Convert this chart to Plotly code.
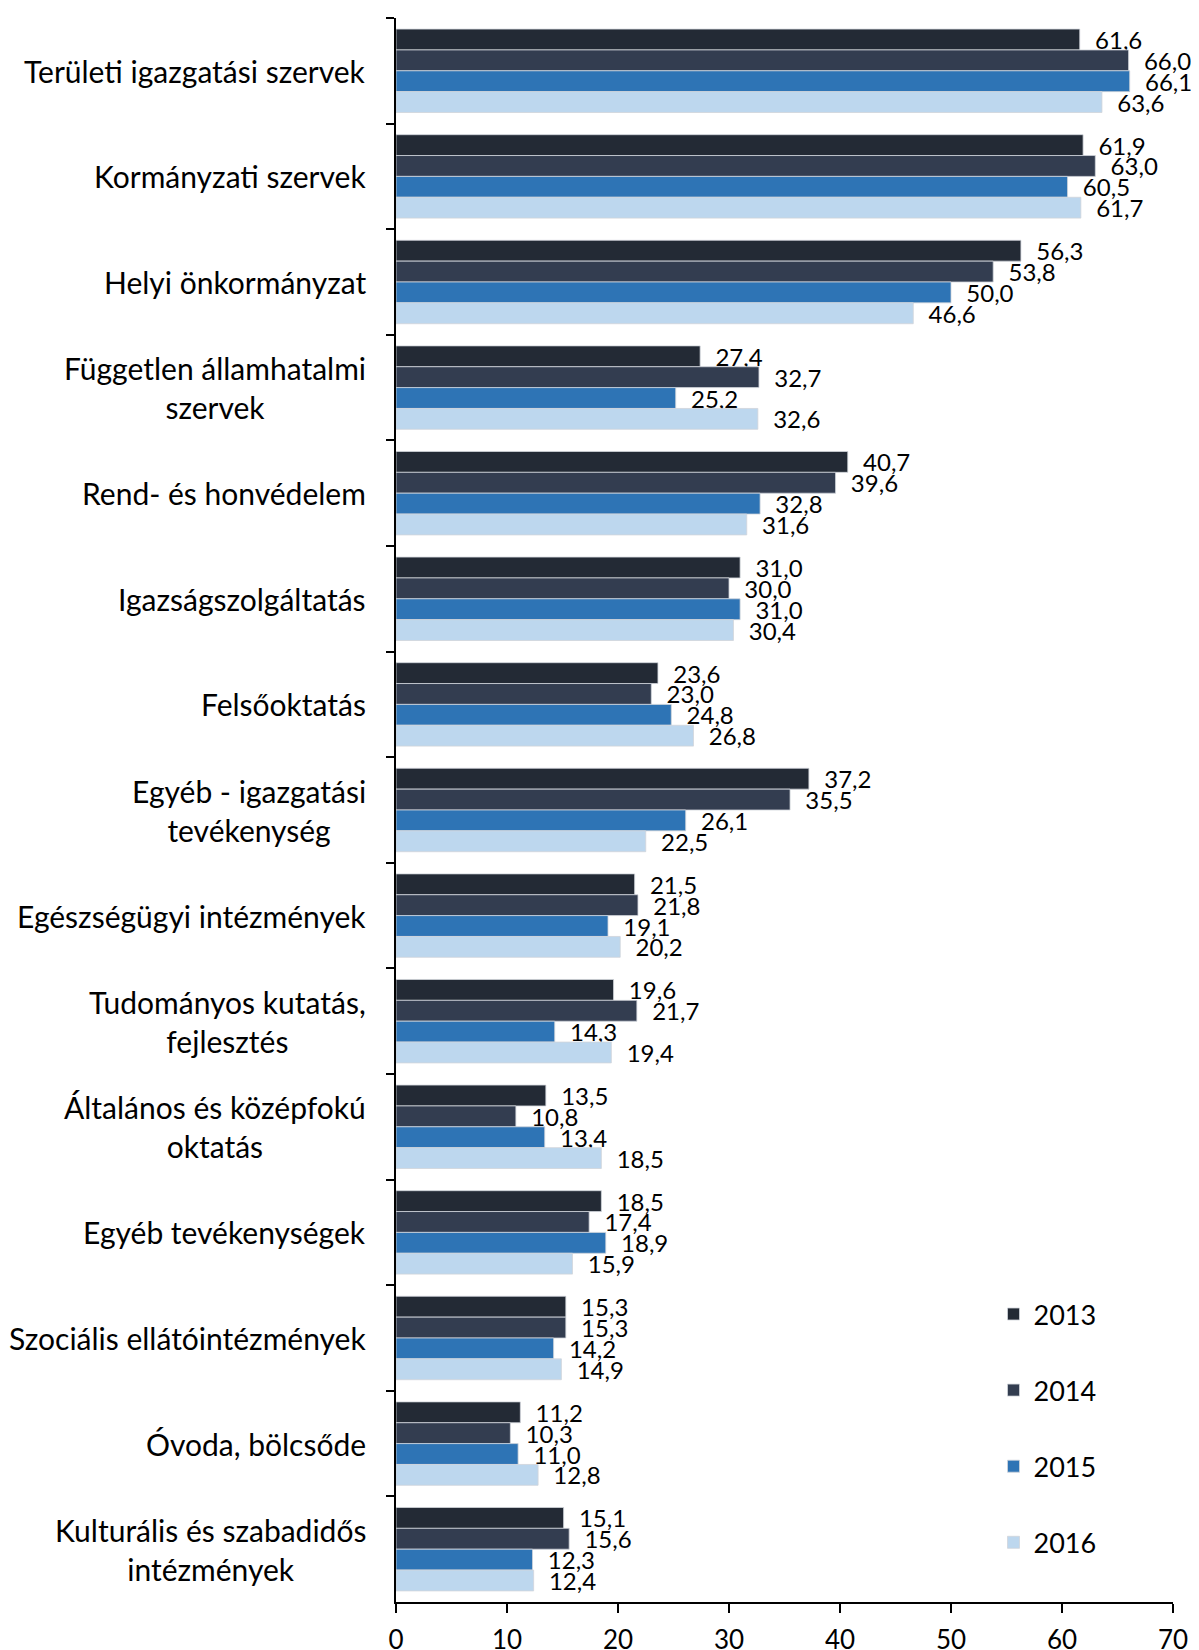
import plotly.graph_objects as go

categories = [
    "Területi igazgatási szervek",
    "Kormányzati szervek",
    "Helyi önkormányzat",
    "Független államhatalmi<br>szervek",
    "Rend- és honvédelem",
    "Igazságszolgáltatás",
    "Felsőoktatás",
    "Egyéb - igazgatási<br>tevékenység",
    "Egészségügyi intézmények",
    "Tudományos kutatás,<br>fejlesztés",
    "Általános és középfokú<br>oktatás",
    "Egyéb tevékenységek",
    "Szociális ellátóintézmények",
    "Óvoda, bölcsőde",
    "Kulturális és szabadidős<br>intézmények",
]
years = ["2013", "2014", "2015", "2016"]
v2013 = [61.6, 61.9, 56.3, 27.4, 40.7, 31.0, 23.6, 37.2, 21.5, 19.6, 13.5, 18.5, 15.3, 11.2, 15.1]
v2014 = [66.0, 63.0, 53.8, 32.7, 39.6, 30.0, 23.0, 35.5, 21.8, 21.7, 10.8, 17.4, 15.3, 10.3, 15.6]
v2015 = [66.1, 60.5, 50.0, 25.2, 32.8, 31.0, 24.8, 26.1, 19.1, 14.3, 13.4, 18.9, 14.2, 11.0, 12.3]
v2016 = [63.6, 61.7, 46.6, 32.6, 31.6, 30.4, 26.8, 22.5, 20.2, 19.4, 18.5, 15.9, 14.9, 12.8, 12.4]
series = [v2013, v2014, v2015, v2016]
colors = ["#232a35", "#333d50", "#2e74b5", "#bdd7ee"]

FONT = "Lato"
fig = go.Figure()
for name, vals, col in zip(years, series, colors):
    fig.add_trace(go.Bar(
        y=categories, x=vals, name=name, orientation="h",
        marker=dict(color=col, line=dict(color="#d0d4da", width=0.8)),
        texttemplate="\u00a0\u00a0%{x:.1f}", textposition="outside",
        constraintext="none",
        textfont=dict(family=FONT, size=24, color="#000000"),
        cliponaxis=False, legendgroup=name,
    ))

annotations = []
for cat in categories:
    annotations.append(dict(
        xref="paper", x=0, xanchor="right", xshift=-28,
        yref="y", y=cat, yanchor="middle",
        text=cat, showarrow=False, align="center",
        font=dict(family=FONT, size=30, color="#000000"),
    ))

fig.update_layout(
    width=1191, height=1642,
    margin=dict(l=388, r=26, t=10, b=48, autoexpand=False),
    paper_bgcolor="white", plot_bgcolor="white",
    barmode="group", bargap=0.21, bargroupgap=0,
    separators=", ",
    font=dict(family=FONT, color="#000000"),
    showlegend=True,
    legend=dict(x=0.769, y=0.197, xanchor="left", yanchor="top",
                font=dict(family=FONT, size=27, color="#000000"),
                traceorder="grouped", tracegroupgap=38,
                bgcolor="rgba(0,0,0,0)"),
    annotations=annotations,
)
fig.update_xaxes(range=[0, 70], dtick=10, tick0=0, showgrid=False, zeroline=False,
                 showline=True, linecolor="#000000", linewidth=1.5,
                 ticks="outside", ticklen=9, tickcolor="#000000", tickwidth=1.5,
                 ticklabelstandoff=5, automargin=False,
                 tickfont=dict(family=FONT, size=26, color="#000000"))
fig.update_yaxes(autorange="reversed", showgrid=False, showline=True,
                 linecolor="#000000", linewidth=1.5, ticks="outside", ticklen=8,
                 tickcolor="#000000", tickwidth=1.5, tickson="boundaries",
                 showticklabels=False, automargin=False)

fig.write_html("out.html")
